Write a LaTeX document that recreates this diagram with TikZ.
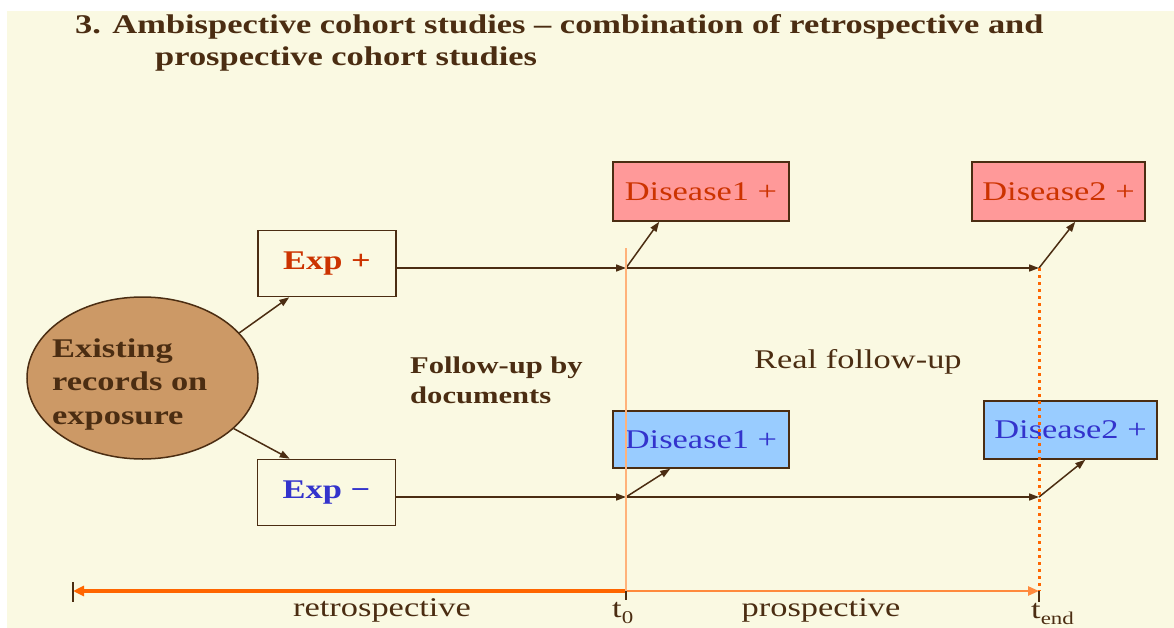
\documentclass[tikz,border=0pt]{standalone}
\usepackage{fontspec}
\setmainfont{Liberation Serif}
\usetikzlibrary{arrows.meta,calc,shapes.geometric}
\definecolor{bg}{HTML}{FAF9E2}
\definecolor{dkb}{HTML}{4B2D12}
\definecolor{redfill}{HTML}{FF9999}
\definecolor{redtxt}{HTML}{CC3300}
\definecolor{bluefill}{HTML}{99CCFF}
\definecolor{bluetxt}{HTML}{3333CC}
\definecolor{ellfill}{HTML}{CC9966}
\definecolor{orng}{HTML}{FF6600}
\definecolor{orngl}{HTML}{FF8A3D}
\definecolor{orngp}{HTML}{FFB27A}
\newcommand\sx[1]{\scalebox{1.275}[1]{#1}}
\begin{document}
\begin{tikzpicture}[x=1pt,y=-1pt,
  txt/.style={inner sep=0pt, text=dkb, font=\fontsize{27}{33.7}\selectfont},
  btxt/.style={txt, font=\fontsize{27}{33.7}\selectfont\bfseries},
  box/.style={draw=dkb, line width=1.5pt, inner sep=0pt, font=\fontsize{27}{32}\selectfont},
  expbox/.style={box, fill=bg, minimum width=138pt, minimum height=66pt, font=\fontsize{27}{32}\selectfont\bfseries},
  disr/.style={box, fill=redfill, text=redtxt, minimum width=176pt, minimum height=59pt},
  disb/.style={box, fill=bluefill, text=bluetxt, minimum width=175pt, minimum height=57pt},
  conn/.style={draw=dkb, line width=1.5pt, -{Triangle[length=10pt,width=7pt]}},
  tick/.style={draw=dkb, line width=1.2pt},
]
\useasboundingbox (0,0) rectangle (1174,628);
\fill[white] (0,0) rectangle (1174,628);
\fill[bg] (7,11) rectangle (1174,628);

% title
\node[btxt, anchor=base west] (title1) at (75,34) {\sx{3. Ambispective cohort studies – combination of retrospective and}};
\node[btxt, anchor=base west] (title2) at (155,66) {\sx{prospective cohort studies}};

% ellipse
\node[ellipse, draw=dkb, line width=1.5pt, fill=ellfill, minimum width=231pt, minimum height=162pt, inner sep=0pt] (ell) at (142.5,378) {};
\node[btxt, anchor=west] (elltxt) at (52,384) {\sx{\begin{tabular}{@{}l@{}}Existing\\records on\\exposure\end{tabular}}};

% exposure boxes
\node[expbox, text=redtxt] (expp) at (327,263.5) {\raisebox{-2pt}{\sx{Exp +}}};
\node[expbox, text=bluetxt] (expm) at (326.5,492.5) {\raisebox{-3pt}{\sx{Exp −}}};

% disease boxes
\node[disr] (d1r) at (701,191.5) {\sx{Disease1 +}};
\node[disr, minimum width=173pt] (d2r) at (1058.5,191.5) {\sx{Disease2 +}};
\node[disb, minimum width=176pt] (d1b) at (701,439.5) {\sx{Disease1 +}};
\node[disb, minimum width=173pt, minimum height=58pt] (d2b) at (1070.5,430) {\sx{Disease2 +}};

% labels
\node[btxt, anchor=west, font=\fontsize{24}{30}\selectfont\bfseries] (fud) at (410,382) {\sx{\begin{tabular}{@{}l@{}}Follow-up by\\documents\end{tabular}}};
\node[txt, anchor=base west] (rfu) at (754,368) {\sx{Real follow-up}};

% junctions
\coordinate (j1) at (626,268);
\coordinate (j2) at (1039,268);
\coordinate (j3) at (626,497);
\coordinate (j4) at (1039,497);
\coordinate (t0top) at (626,248);
\coordinate (ax0) at (73,591);
\coordinate (ax1) at (626,591);
\coordinate (ax2) at (1039,591);

% connectors
\draw[conn] (ell.25) -- ($(expp.south west)+(32,0)$);
\draw[conn] (ell.-29) -- ($(expm.north west)+(33,0)$);
\draw[conn] (j1 -| expp.east) -- (j1);
\draw[conn] (j3 -| expm.east) -- (j3);
\draw[conn] (j1) -- (j2);
\draw[conn] (j3) -- (j4);
\draw[conn] (j1) -- ($(d1r.south west)+(47,0)$);
\draw[conn] (j2) -- ($(d2r.south west)+(104,0)$);
\draw[conn] (j3) -- ($(d1b.south west)+(58,0)$);
\draw[conn] (j4) -- ($(d2b.south west)+(102,0)$);

% time axis
\draw[orng, line width=4pt, -{Triangle[length=11pt,width=10pt]}] (ax1) -- (ax0);
\draw[orngl, line width=2.5pt, -{Triangle[length=11pt,width=9pt]}] (ax1) -- (ax2);
\draw[tick] ($(ax0)+(0,-9)$) -- ($(ax0)+(0,11)$);
\draw[tick] ($(ax1)+(0,-7)$) -- ($(ax1)+(0,9)$);
\draw[tick] ($(ax2)+(0,0)$) -- ($(ax2)+(0,11)$);

% vertical markers
\draw[orngp, line width=1.5pt] (t0top) -- (ax1);
\draw[orng, line width=3pt, dash pattern=on 3pt off 4pt] (j2) -- (ax2);

% axis labels
\node[txt, anchor=base] (retro) at (382,616) {\sx{retrospective}};
\node[txt, anchor=base] (prosp) at (821,616) {\sx{prospective}};
\node[txt, anchor=base west] (tzero) at (612,617) {\sx{t\raisebox{-0.25em}{\fontsize{18}{18}\selectfont 0}}};
\node[txt, anchor=base west] (tend) at (1031,618) {\sx{t\raisebox{-0.25em}{\fontsize{18}{18}\selectfont end}}};
\end{tikzpicture}
\end{document}
